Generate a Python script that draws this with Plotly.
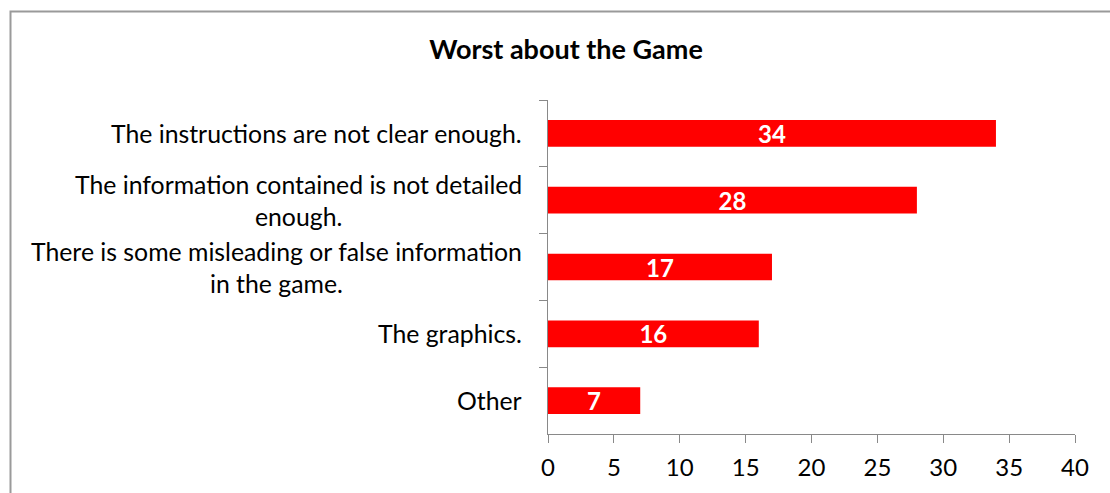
import plotly.graph_objects as go

categories = [
    "The instructions are not clear enough.",
    "The information contained is not detailed<br>enough.",
    "There is some misleading or false information<br>in the game.",
    "The graphics.",
    "Other",
]
values = [34, 28, 17, 16, 7]
x_ticks = [0, 5, 10, 15, 20, 25, 30, 35, 40]
title = "Worst about the Game"

FONT = "Lato, Open Sans, sans-serif"
AXIS = "#898989"

fig = go.Figure()
fig.add_trace(go.Bar(
    y=categories, x=values, orientation="h",
    marker=dict(color="#FF0000", line=dict(width=0)),
    width=0.4,
    text=[str(v) for v in values], textposition="inside",
    insidetextanchor="middle", textangle=0, constraintext="none",
    textfont=dict(family=FONT, size=24, color="white", weight="bold"),
    cliponaxis=False,
))

for c in categories:
    fig.add_annotation(
        x=0, xref="paper", y=c, yref="y", text=c, showarrow=False,
        xanchor="right", yanchor="middle", align="center", xshift=-24,
        font=dict(family=FONT, size=24.8, color="black"),
    )

# chart-area border (left and top visible; right/bottom beyond the page)
fig.add_shape(type="rect", xref="paper", yref="paper",
              x0=(10.5 - 548) / 527, x1=1.2, y0=-0.5, y1=(436 - 11) / 336,
              line=dict(color="#9a9a9a", width=2), fillcolor="rgba(0,0,0,0)", layer="below")

fig.update_layout(
    width=1110, height=493,
    margin=dict(l=548, r=35, t=100, b=57),
    paper_bgcolor="white", plot_bgcolor="white",
    showlegend=False,
    title=dict(text="<b>" + title + "</b>", x=566 / 1110, xanchor="center",
               y=1 - 50 / 493, yanchor="middle",
               font=dict(family=FONT, size=27, color="black")),
    xaxis=dict(range=[0, 40], tickvals=x_ticks, ticktext=[str(t) for t in x_ticks],
               showgrid=False, zeroline=False, showline=True, linecolor=AXIS, linewidth=1,
               ticks="outside", ticklen=8, tickcolor=AXIS, ticklabelstandoff=4,
               tickfont=dict(family=FONT, size=24, color="black")),
    yaxis=dict(categoryorder="array", categoryarray=categories, autorange="reversed",
               showticklabels=False, showgrid=False, zeroline=False,
               showline=True, linecolor=AXIS, linewidth=1,
               ticks="outside", ticklen=8, tickcolor=AXIS, tickson="boundaries"),
    bargap=0.6,
)

fig.write_html("out.html", config={"displayModeBar": False})
with open("out.html", encoding="utf-8") as f:
    html = f.read()
html = html.replace("<body>", '<body style="margin:0;padding:0;">', 1)
with open("out.html", "w", encoding="utf-8") as f:
    f.write(html)
